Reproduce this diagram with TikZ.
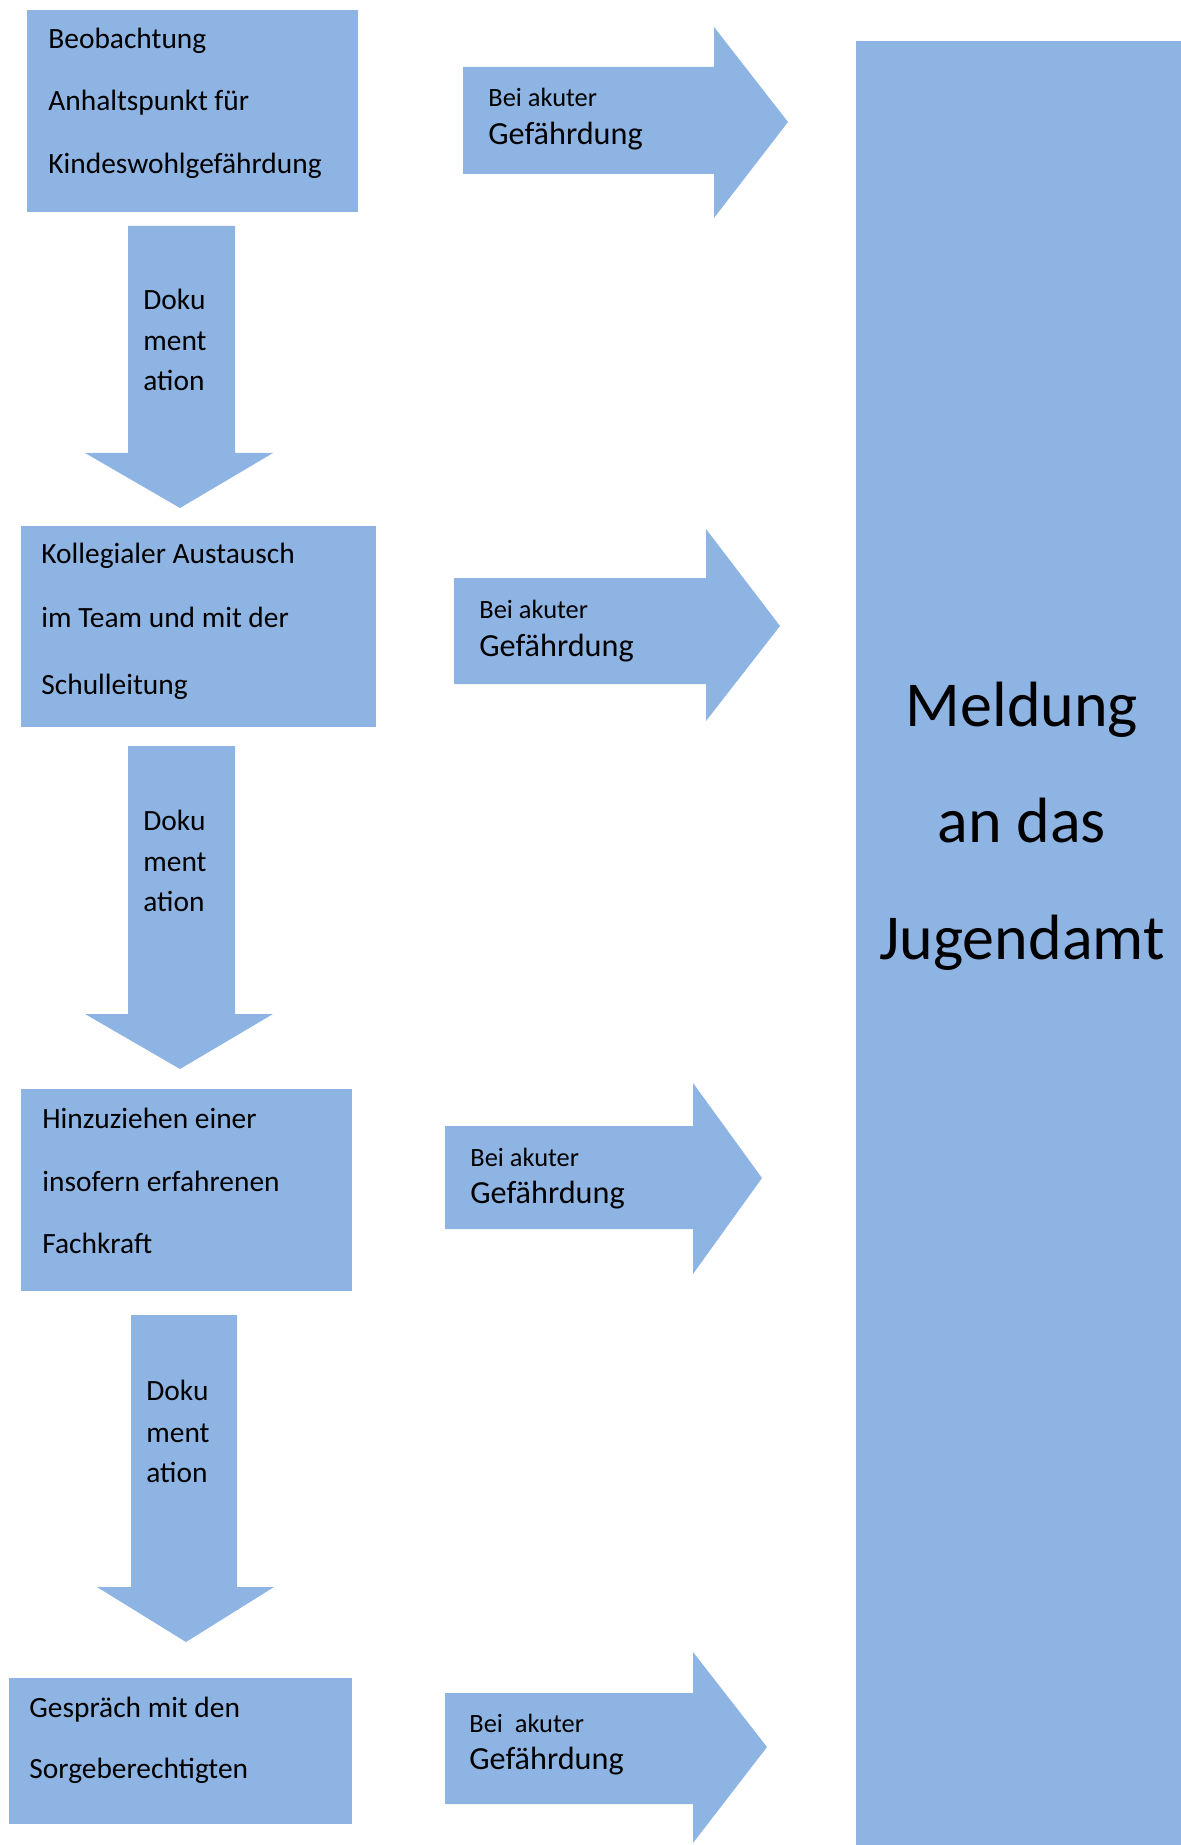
\documentclass[tikz,border=0pt]{standalone}
\usepackage{fontspec}
\setmainfont{Carlito}
\definecolor{blu}{RGB}{142,180,227}
\begin{document}
\begin{tikzpicture}[x=0.5pt,y=-0.5pt,
  blk/.style={fill=blu, draw=none},
  ln/.style={anchor=base west, inner sep=0pt, font=\fontsize{14.7}{16}\selectfont},
  sm/.style={anchor=base west, inner sep=0pt, font=\fontsize{13.2}{15}\selectfont},
  md/.style={anchor=base west, inner sep=0pt, font=\fontsize{16.1}{18}\selectfont},
  big/.style={anchor=base, inner sep=0pt, font=\fontsize{32}{36}\selectfont}]
\useasboundingbox (0,0) rectangle (1181,1845);
% big box
\fill[blk] (856,41) rectangle (1181,1845);
\node[big] (m1) at (1022,726) {Meldung};
\node[big] (m2) at (1022,842) {an das};
\node[big] (m3) at (1022,959) {Jugendamt};
% boxes
\fill[blk] (27,10) rectangle (358,212);
\node[ln] (b1a) at (48,49) {Beobachtung};
\node[ln] (b1b) at (48,111) {Anhaltspunkt für};
\node[ln] (b1c) at (48,174) {Kindeswohlgefährdung};
\fill[blk] (21,526) rectangle (376,727);
\node[ln] (b2a) at (41,563) {Kollegialer Austausch};
\node[ln] (b2b) at (41,627) {im Team und mit der};
\node[ln] (b2c) at (41,694) {Schulleitung};
\fill[blk] (21,1089) rectangle (352,1291);
\node[ln] (b3a) at (42,1128) {Hinzuziehen einer};
\node[ln] (b3b) at (42,1191) {insofern erfahrenen};
\node[ln] (b3c) at (42,1253) {Fachkraft};
\fill[blk] (9,1678) rectangle (352,1824);
\node[ln] (b4a) at (29,1717) {Gespräch mit den};
\node[ln] (b4b) at (29,1778) {Sorgeberechtigten};
% down arrows
\fill[blk] (128,226) -- (235,226) -- (235,453) -- (273,453) -- (180,508) -- (85,453) -- (128,453) -- cycle;
\node[ln] (d1a) at (143,310) {Doku};
\node[ln] (d1b) at (143,351) {ment};
\node[ln] (d1c) at (143,391) {ation};
\fill[blk] (128,746) -- (235,746) -- (235,1014) -- (273,1014) -- (180,1069) -- (85,1014) -- (128,1014) -- cycle;
\node[ln] (d2a) at (143,830) {Doku};
\node[ln] (d2b) at (143,871) {ment};
\node[ln] (d2c) at (143,911) {ation};
\fill[blk] (131,1315) -- (237,1315) -- (237,1587) -- (274,1587) -- (186,1642) -- (97,1587) -- (131,1587) -- cycle;
\node[ln] (d3a) at (146,1400) {Doku};
\node[ln] (d3b) at (146,1442) {ment};
\node[ln] (d3c) at (146,1482) {ation};
% right arrows
\fill[blk] (463,67) -- (714,67) -- (714,27) -- (788,122) -- (714,218) -- (714,174) -- (463,174) -- cycle;
\node[sm] (r1a) at (488,107) {Bei akuter};
\node[md] (r1b) at (488,145) {Gefährdung};
\fill[blk] (454,578) -- (706,578) -- (706,529) -- (780,626) -- (706,721) -- (706,684) -- (454,684) -- cycle;
\node[sm] (r2a) at (479,618) {Bei akuter};
\node[md] (r2b) at (479,656) {Gefährdung};
\fill[blk] (445,1126) -- (693,1126) -- (693,1083) -- (762,1178) -- (693,1274) -- (693,1229) -- (445,1229) -- cycle;
\node[sm] (r3a) at (470,1166) {Bei akuter};
\node[md] (r3b) at (470,1203) {Gefährdung};
\fill[blk] (445,1693) -- (693,1693) -- (693,1652) -- (767,1747) -- (693,1843) -- (693,1804) -- (445,1804) -- cycle;
\node[sm] (r4a) at (469,1732) {Bei~ akuter};
\node[md] (r4b) at (469,1769) {Gefährdung};
\end{tikzpicture}
\end{document}
